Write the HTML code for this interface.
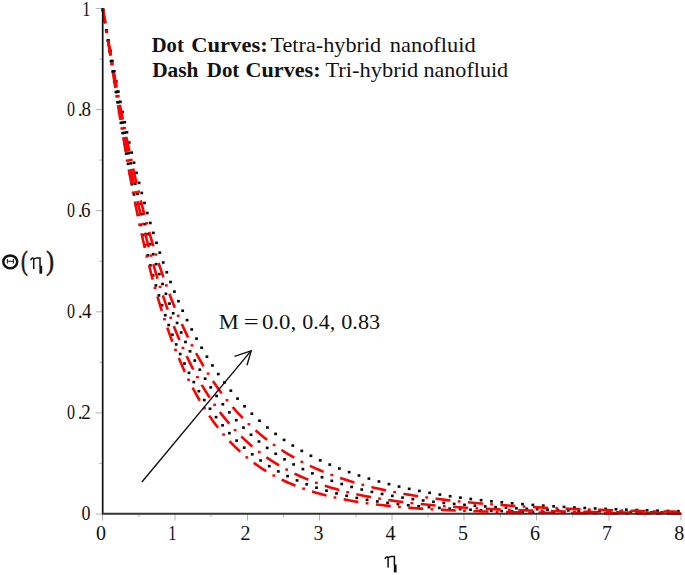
<!DOCTYPE html>
<html><head><meta charset="utf-8"><style>
html,body{margin:0;padding:0;background:#fff;}
body{width:685px;height:575px;overflow:hidden;position:relative;}
svg{position:absolute;left:0;top:0;}
.tl text{font-family:"Liberation Serif",serif;font-size:20px;}
</style></head><body>
<svg width="685" height="575" viewBox="0 0 685 575">
<g stroke="#b4b4b4" stroke-width="1"><line x1="102.5" y1="514" x2="102.5" y2="520.5"/><line x1="139.0" y1="514" x2="139.0" y2="517.2"/><line x1="175.0" y1="514" x2="175.0" y2="520.5"/><line x1="211.0" y1="514" x2="211.0" y2="517.2"/><line x1="247.5" y1="514" x2="247.5" y2="520.5"/><line x1="283.5" y1="514" x2="283.5" y2="517.2"/><line x1="319.5" y1="514" x2="319.5" y2="520.5"/><line x1="356.0" y1="514" x2="356.0" y2="517.2"/><line x1="392.0" y1="514" x2="392.0" y2="520.5"/><line x1="428.0" y1="514" x2="428.0" y2="517.2"/><line x1="464.0" y1="514" x2="464.0" y2="520.5"/><line x1="500.5" y1="514" x2="500.5" y2="517.2"/><line x1="536.5" y1="514" x2="536.5" y2="520.5"/><line x1="572.5" y1="514" x2="572.5" y2="517.2"/><line x1="609.0" y1="514" x2="609.0" y2="520.5"/><line x1="645.0" y1="514" x2="645.0" y2="517.2"/><line x1="681.0" y1="514" x2="681.0" y2="520.5"/><line x1="95.7" y1="514.0" x2="102.7" y2="514.0"/><line x1="99.2" y1="463.4" x2="102.7" y2="463.4"/><line x1="95.7" y1="412.9" x2="102.7" y2="412.9"/><line x1="99.2" y1="362.3" x2="102.7" y2="362.3"/><line x1="95.7" y1="311.8" x2="102.7" y2="311.8"/><line x1="99.2" y1="261.2" x2="102.7" y2="261.2"/><line x1="95.7" y1="210.7" x2="102.7" y2="210.7"/><line x1="99.2" y1="160.1" x2="102.7" y2="160.1"/><line x1="95.7" y1="109.6" x2="102.7" y2="109.6"/><line x1="99.2" y1="59.1" x2="102.7" y2="59.1"/><line x1="95.7" y1="8.5" x2="102.7" y2="8.5"/></g>
<g fill="#0a0a0a"><rect x="101.53" y="8.58" width="2.8" height="2.6"/><rect x="103.22" y="18.84" width="2.8" height="2.6"/><rect x="104.86" y="29.11" width="2.8" height="2.6"/><rect x="106.48" y="39.39" width="2.8" height="2.6"/><rect x="108.09" y="49.66" width="2.8" height="2.6"/><rect x="109.69" y="59.94" width="2.8" height="2.6"/><rect x="111.29" y="70.21" width="2.8" height="2.6"/><rect x="112.91" y="80.49" width="2.8" height="2.6"/><rect x="114.53" y="90.76" width="2.8" height="2.6"/><rect x="116.18" y="101.03" width="2.8" height="2.6"/><rect x="117.85" y="111.29" width="2.8" height="2.6"/><rect x="119.55" y="121.55" width="2.8" height="2.6"/><rect x="121.28" y="131.81" width="2.8" height="2.6"/><rect x="123.05" y="142.06" width="2.8" height="2.6"/><rect x="124.86" y="152.30" width="2.8" height="2.6"/><rect x="126.72" y="162.53" width="2.8" height="2.6"/><rect x="128.62" y="172.75" width="2.8" height="2.6"/><rect x="130.59" y="182.97" width="2.8" height="2.6"/><rect x="132.61" y="193.17" width="2.8" height="2.6"/><rect x="134.70" y="203.36" width="2.8" height="2.6"/><rect x="136.86" y="213.53" width="2.8" height="2.6"/><rect x="139.09" y="223.69" width="2.8" height="2.6"/><rect x="141.41" y="233.82" width="2.8" height="2.6"/><rect x="143.82" y="243.94" width="2.8" height="2.6"/><rect x="146.33" y="254.04" width="2.8" height="2.6"/><rect x="148.94" y="264.10" width="2.8" height="2.6"/><rect x="151.66" y="274.14" width="2.8" height="2.6"/><rect x="154.50" y="284.14" width="2.8" height="2.6"/><rect x="157.48" y="294.11" width="2.8" height="2.6"/><rect x="160.60" y="304.03" width="2.8" height="2.6"/><rect x="163.88" y="313.90" width="2.8" height="2.6"/><rect x="167.32" y="323.71" width="2.8" height="2.6"/><rect x="170.95" y="333.46" width="2.8" height="2.6"/><rect x="174.77" y="343.13" width="2.8" height="2.6"/><rect x="178.80" y="352.72" width="2.8" height="2.6"/><rect x="183.07" y="362.20" width="2.8" height="2.6"/><rect x="187.59" y="371.57" width="2.8" height="2.6"/><rect x="192.38" y="380.80" width="2.8" height="2.6"/><rect x="197.46" y="389.87" width="2.8" height="2.6"/><rect x="202.86" y="398.76" width="2.8" height="2.6"/><rect x="208.59" y="407.44" width="2.8" height="2.6"/><rect x="214.68" y="415.87" width="2.8" height="2.6"/><rect x="221.14" y="424.02" width="2.8" height="2.6"/><rect x="227.98" y="431.85" width="2.8" height="2.6"/><rect x="235.22" y="439.31" width="2.8" height="2.6"/><rect x="242.84" y="446.38" width="2.8" height="2.6"/><rect x="250.85" y="453.02" width="2.8" height="2.6"/><rect x="259.21" y="459.20" width="2.8" height="2.6"/><rect x="267.91" y="464.90" width="2.8" height="2.6"/><rect x="276.90" y="470.12" width="2.8" height="2.6"/><rect x="286.16" y="474.86" width="2.8" height="2.6"/><rect x="295.64" y="479.13" width="2.8" height="2.6"/><rect x="305.31" y="482.96" width="2.8" height="2.6"/><rect x="315.13" y="486.38" width="2.8" height="2.6"/><rect x="325.08" y="489.42" width="2.8" height="2.6"/><rect x="335.12" y="492.12" width="2.8" height="2.6"/><rect x="345.24" y="494.50" width="2.8" height="2.6"/><rect x="355.43" y="496.61" width="2.8" height="2.6"/><rect x="365.66" y="498.47" width="2.8" height="2.6"/><rect x="375.93" y="500.11" width="2.8" height="2.6"/><rect x="386.23" y="501.55" width="2.8" height="2.6"/><rect x="396.55" y="502.83" width="2.8" height="2.6"/><rect x="406.89" y="503.96" width="2.8" height="2.6"/><rect x="417.24" y="504.96" width="2.8" height="2.6"/><rect x="427.60" y="505.84" width="2.8" height="2.6"/><rect x="437.97" y="506.61" width="2.8" height="2.6"/><rect x="448.35" y="507.30" width="2.8" height="2.6"/><rect x="458.73" y="507.91" width="2.8" height="2.6"/><rect x="469.12" y="508.45" width="2.8" height="2.6"/><rect x="479.51" y="508.93" width="2.8" height="2.6"/><rect x="489.90" y="509.36" width="2.8" height="2.6"/><rect x="500.29" y="509.73" width="2.8" height="2.6"/><rect x="510.69" y="510.07" width="2.8" height="2.6"/><rect x="521.08" y="510.36" width="2.8" height="2.6"/><rect x="531.48" y="510.63" width="2.8" height="2.6"/><rect x="541.88" y="510.86" width="2.8" height="2.6"/><rect x="552.27" y="511.07" width="2.8" height="2.6"/><rect x="562.67" y="511.25" width="2.8" height="2.6"/><rect x="573.07" y="511.42" width="2.8" height="2.6"/><rect x="583.47" y="511.56" width="2.8" height="2.6"/><rect x="593.87" y="511.69" width="2.8" height="2.6"/><rect x="604.27" y="511.81" width="2.8" height="2.6"/><rect x="614.67" y="511.91" width="2.8" height="2.6"/><rect x="625.07" y="512.00" width="2.8" height="2.6"/><rect x="635.47" y="512.08" width="2.8" height="2.6"/><rect x="645.87" y="512.16" width="2.8" height="2.6"/><rect x="656.27" y="512.22" width="2.8" height="2.6"/><rect x="666.67" y="512.28" width="2.8" height="2.6"/><rect x="677.07" y="512.33" width="2.8" height="2.6"/><rect x="101.54" y="8.58" width="2.8" height="2.6"/><rect x="103.31" y="18.83" width="2.8" height="2.6"/><rect x="105.06" y="29.08" width="2.8" height="2.6"/><rect x="106.80" y="39.33" width="2.8" height="2.6"/><rect x="108.55" y="49.58" width="2.8" height="2.6"/><rect x="110.30" y="59.84" width="2.8" height="2.6"/><rect x="112.06" y="70.09" width="2.8" height="2.6"/><rect x="113.85" y="80.33" width="2.8" height="2.6"/><rect x="115.65" y="90.57" width="2.8" height="2.6"/><rect x="117.49" y="100.81" width="2.8" height="2.6"/><rect x="119.36" y="111.04" width="2.8" height="2.6"/><rect x="121.27" y="121.26" width="2.8" height="2.6"/><rect x="123.23" y="131.48" width="2.8" height="2.6"/><rect x="125.23" y="141.68" width="2.8" height="2.6"/><rect x="127.28" y="151.88" width="2.8" height="2.6"/><rect x="129.39" y="162.06" width="2.8" height="2.6"/><rect x="131.56" y="172.23" width="2.8" height="2.6"/><rect x="133.80" y="182.39" width="2.8" height="2.6"/><rect x="136.10" y="192.53" width="2.8" height="2.6"/><rect x="138.49" y="202.65" width="2.8" height="2.6"/><rect x="140.96" y="212.76" width="2.8" height="2.6"/><rect x="143.51" y="222.84" width="2.8" height="2.6"/><rect x="146.17" y="232.89" width="2.8" height="2.6"/><rect x="148.92" y="242.92" width="2.8" height="2.6"/><rect x="151.79" y="252.92" width="2.8" height="2.6"/><rect x="154.77" y="262.88" width="2.8" height="2.6"/><rect x="157.88" y="272.81" width="2.8" height="2.6"/><rect x="161.13" y="282.69" width="2.8" height="2.6"/><rect x="164.52" y="292.52" width="2.8" height="2.6"/><rect x="168.07" y="302.29" width="2.8" height="2.6"/><rect x="171.79" y="312.00" width="2.8" height="2.6"/><rect x="175.69" y="321.64" width="2.8" height="2.6"/><rect x="179.79" y="331.20" width="2.8" height="2.6"/><rect x="184.09" y="340.67" width="2.8" height="2.6"/><rect x="188.62" y="350.03" width="2.8" height="2.6"/><rect x="193.39" y="359.27" width="2.8" height="2.6"/><rect x="198.42" y="368.38" width="2.8" height="2.6"/><rect x="203.72" y="377.33" width="2.8" height="2.6"/><rect x="209.31" y="386.10" width="2.8" height="2.6"/><rect x="215.20" y="394.66" width="2.8" height="2.6"/><rect x="221.42" y="403.00" width="2.8" height="2.6"/><rect x="227.96" y="411.08" width="2.8" height="2.6"/><rect x="234.85" y="418.87" width="2.8" height="2.6"/><rect x="242.08" y="426.34" width="2.8" height="2.6"/><rect x="249.66" y="433.47" width="2.8" height="2.6"/><rect x="257.57" y="440.22" width="2.8" height="2.6"/><rect x="265.80" y="446.57" width="2.8" height="2.6"/><rect x="274.34" y="452.51" width="2.8" height="2.6"/><rect x="283.15" y="458.03" width="2.8" height="2.6"/><rect x="292.22" y="463.13" width="2.8" height="2.6"/><rect x="301.50" y="467.81" width="2.8" height="2.6"/><rect x="310.98" y="472.09" width="2.8" height="2.6"/><rect x="320.62" y="475.99" width="2.8" height="2.6"/><rect x="330.40" y="479.52" width="2.8" height="2.6"/><rect x="340.29" y="482.72" width="2.8" height="2.6"/><rect x="350.28" y="485.61" width="2.8" height="2.6"/><rect x="360.35" y="488.22" width="2.8" height="2.6"/><rect x="370.48" y="490.57" width="2.8" height="2.6"/><rect x="380.67" y="492.68" width="2.8" height="2.6"/><rect x="390.89" y="494.58" width="2.8" height="2.6"/><rect x="401.15" y="496.29" width="2.8" height="2.6"/><rect x="411.43" y="497.83" width="2.8" height="2.6"/><rect x="421.74" y="499.22" width="2.8" height="2.6"/><rect x="432.07" y="500.48" width="2.8" height="2.6"/><rect x="442.40" y="501.60" width="2.8" height="2.6"/><rect x="452.75" y="502.62" width="2.8" height="2.6"/><rect x="463.11" y="503.54" width="2.8" height="2.6"/><rect x="473.48" y="504.38" width="2.8" height="2.6"/><rect x="483.85" y="505.13" width="2.8" height="2.6"/><rect x="494.23" y="505.81" width="2.8" height="2.6"/><rect x="504.61" y="506.43" width="2.8" height="2.6"/><rect x="515.00" y="506.99" width="2.8" height="2.6"/><rect x="525.38" y="507.49" width="2.8" height="2.6"/><rect x="535.77" y="507.96" width="2.8" height="2.6"/><rect x="546.17" y="508.37" width="2.8" height="2.6"/><rect x="556.56" y="508.76" width="2.8" height="2.6"/><rect x="566.95" y="509.10" width="2.8" height="2.6"/><rect x="577.35" y="509.42" width="2.8" height="2.6"/><rect x="587.74" y="509.71" width="2.8" height="2.6"/><rect x="598.14" y="509.97" width="2.8" height="2.6"/><rect x="608.54" y="510.21" width="2.8" height="2.6"/><rect x="618.94" y="510.43" width="2.8" height="2.6"/><rect x="629.33" y="510.63" width="2.8" height="2.6"/><rect x="639.73" y="510.81" width="2.8" height="2.6"/><rect x="650.13" y="510.98" width="2.8" height="2.6"/><rect x="660.53" y="511.13" width="2.8" height="2.6"/><rect x="670.93" y="511.27" width="2.8" height="2.6"/><rect x="101.55" y="8.58" width="2.8" height="2.6"/><rect x="103.39" y="18.81" width="2.8" height="2.6"/><rect x="105.25" y="29.05" width="2.8" height="2.6"/><rect x="107.12" y="39.28" width="2.8" height="2.6"/><rect x="109.02" y="49.50" width="2.8" height="2.6"/><rect x="110.94" y="59.72" width="2.8" height="2.6"/><rect x="112.90" y="69.94" width="2.8" height="2.6"/><rect x="114.89" y="80.14" width="2.8" height="2.6"/><rect x="116.92" y="90.34" width="2.8" height="2.6"/><rect x="118.99" y="100.54" width="2.8" height="2.6"/><rect x="121.12" y="110.72" width="2.8" height="2.6"/><rect x="123.29" y="120.89" width="2.8" height="2.6"/><rect x="125.52" y="131.04" width="2.8" height="2.6"/><rect x="127.81" y="141.19" width="2.8" height="2.6"/><rect x="130.17" y="151.32" width="2.8" height="2.6"/><rect x="132.59" y="161.43" width="2.8" height="2.6"/><rect x="135.09" y="171.53" width="2.8" height="2.6"/><rect x="137.67" y="181.60" width="2.8" height="2.6"/><rect x="140.33" y="191.66" width="2.8" height="2.6"/><rect x="143.08" y="201.69" width="2.8" height="2.6"/><rect x="145.93" y="211.69" width="2.8" height="2.6"/><rect x="148.88" y="221.66" width="2.8" height="2.6"/><rect x="151.93" y="231.60" width="2.8" height="2.6"/><rect x="155.11" y="241.51" width="2.8" height="2.6"/><rect x="158.40" y="251.37" width="2.8" height="2.6"/><rect x="161.83" y="261.19" width="2.8" height="2.6"/><rect x="165.40" y="270.96" width="2.8" height="2.6"/><rect x="169.12" y="280.67" width="2.8" height="2.6"/><rect x="172.99" y="290.32" width="2.8" height="2.6"/><rect x="177.03" y="299.90" width="2.8" height="2.6"/><rect x="181.26" y="309.41" width="2.8" height="2.6"/><rect x="185.67" y="318.82" width="2.8" height="2.6"/><rect x="190.29" y="328.14" width="2.8" height="2.6"/><rect x="195.13" y="337.35" width="2.8" height="2.6"/><rect x="200.19" y="346.43" width="2.8" height="2.6"/><rect x="205.50" y="355.37" width="2.8" height="2.6"/><rect x="211.07" y="364.16" width="2.8" height="2.6"/><rect x="216.90" y="372.77" width="2.8" height="2.6"/><rect x="223.02" y="381.18" width="2.8" height="2.6"/><rect x="229.43" y="389.37" width="2.8" height="2.6"/><rect x="236.13" y="397.32" width="2.8" height="2.6"/><rect x="243.14" y="405.00" width="2.8" height="2.6"/><rect x="250.46" y="412.39" width="2.8" height="2.6"/><rect x="258.08" y="419.46" width="2.8" height="2.6"/><rect x="266.00" y="426.20" width="2.8" height="2.6"/><rect x="274.20" y="432.59" width="2.8" height="2.6"/><rect x="282.68" y="438.62" width="2.8" height="2.6"/><rect x="291.40" y="444.28" width="2.8" height="2.6"/><rect x="300.36" y="449.57" width="2.8" height="2.6"/><rect x="309.52" y="454.49" width="2.8" height="2.6"/><rect x="318.86" y="459.07" width="2.8" height="2.6"/><rect x="328.35" y="463.30" width="2.8" height="2.6"/><rect x="337.98" y="467.23" width="2.8" height="2.6"/><rect x="347.73" y="470.86" width="2.8" height="2.6"/><rect x="357.57" y="474.21" width="2.8" height="2.6"/><rect x="367.50" y="477.31" width="2.8" height="2.6"/><rect x="377.50" y="480.18" width="2.8" height="2.6"/><rect x="387.55" y="482.83" width="2.8" height="2.6"/><rect x="397.66" y="485.28" width="2.8" height="2.6"/><rect x="407.81" y="487.53" width="2.8" height="2.6"/><rect x="418.00" y="489.61" width="2.8" height="2.6"/><rect x="428.23" y="491.52" width="2.8" height="2.6"/><rect x="438.48" y="493.27" width="2.8" height="2.6"/><rect x="448.75" y="494.88" width="2.8" height="2.6"/><rect x="459.05" y="496.34" width="2.8" height="2.6"/><rect x="469.36" y="497.68" width="2.8" height="2.6"/><rect x="479.69" y="498.91" width="2.8" height="2.6"/><rect x="490.03" y="500.03" width="2.8" height="2.6"/><rect x="500.38" y="501.05" width="2.8" height="2.6"/><rect x="510.74" y="501.98" width="2.8" height="2.6"/><rect x="521.10" y="502.83" width="2.8" height="2.6"/><rect x="531.47" y="503.62" width="2.8" height="2.6"/><rect x="541.85" y="504.33" width="2.8" height="2.6"/><rect x="552.23" y="504.99" width="2.8" height="2.6"/><rect x="562.61" y="505.60" width="2.8" height="2.6"/><rect x="573.00" y="506.16" width="2.8" height="2.6"/><rect x="583.38" y="506.67" width="2.8" height="2.6"/><rect x="593.77" y="507.15" width="2.8" height="2.6"/><rect x="604.16" y="507.59" width="2.8" height="2.6"/><rect x="614.55" y="507.99" width="2.8" height="2.6"/><rect x="624.95" y="508.36" width="2.8" height="2.6"/><rect x="635.34" y="508.71" width="2.8" height="2.6"/><rect x="645.74" y="509.03" width="2.8" height="2.6"/><rect x="656.13" y="509.32" width="2.8" height="2.6"/><rect x="666.53" y="509.60" width="2.8" height="2.6"/><rect x="676.93" y="509.85" width="2.8" height="2.6"/></g><g fill="#f00"><rect x="105.19" y="30.68" width="2.80" height="2.40"/><rect x="110.23" y="62.89" width="2.80" height="2.40"/><rect x="115.22" y="95.10" width="2.80" height="2.40"/><rect x="120.38" y="127.29" width="2.80" height="2.40"/><rect x="125.84" y="159.43" width="2.80" height="2.40"/><rect x="131.73" y="191.49" width="2.80" height="2.40"/><rect x="138.21" y="223.44" width="2.80" height="2.40"/><rect x="145.43" y="255.23" width="2.80" height="2.40"/><rect x="153.62" y="286.78" width="2.80" height="2.40"/><rect x="163.05" y="317.99" width="2.80" height="2.40"/><rect x="174.07" y="348.67" width="2.80" height="2.40"/><rect x="187.16" y="378.51" width="2.80" height="2.40"/><rect x="202.97" y="407.01" width="2.80" height="2.40"/><rect x="222.19" y="433.30" width="2.80" height="2.40"/><rect x="245.38" y="456.15" width="2.80" height="2.40"/><rect x="272.39" y="474.33" width="2.80" height="2.40"/><rect x="302.18" y="487.47" width="2.80" height="2.40"/><rect x="333.54" y="496.31" width="2.80" height="2.40"/><rect x="365.62" y="502.04" width="2.80" height="2.40"/><rect x="398.01" y="505.73" width="2.80" height="2.40"/><rect x="430.52" y="508.10" width="2.80" height="2.40"/><rect x="463.09" y="509.64" width="2.80" height="2.40"/><rect x="495.67" y="510.64" width="2.80" height="2.40"/><rect x="528.26" y="511.31" width="2.80" height="2.40"/><rect x="560.86" y="511.75" width="2.80" height="2.40"/><rect x="593.46" y="512.06" width="2.80" height="2.40"/><rect x="626.06" y="512.26" width="2.80" height="2.40"/><rect x="658.66" y="512.41" width="2.80" height="2.40"/><path d="M102.70,8.50 L102.77,8.91 L103.21,11.42 L103.64,13.95 L104.07,16.52 L104.51,19.11 L104.94,21.73 L105.20,23.29 M107.98,40.67 L107.99,40.73 L108.34,42.95 L108.69,45.18 L109.04,47.42 L109.39,49.66 L109.74,51.91 L110.09,54.16 L110.30,55.49 M112.98,72.88 L113.02,73.14 L113.37,75.40 L113.72,77.66 L114.07,79.92 L114.42,82.17 L114.77,84.43 L115.12,86.67 L115.28,87.71 M118.01,105.09 L118.06,105.39 L118.48,108.03 L118.90,110.66 L119.31,113.29 L119.73,115.90 L120.15,118.50 L120.38,119.90 M123.23,137.27 L123.30,137.65 L123.72,140.16 L124.14,142.64 L124.56,145.12 L124.98,147.58 L125.39,150.03 L125.74,152.06 M128.80,169.39 L128.82,169.52 L129.24,171.84 L129.66,174.14 L130.08,176.44 L130.50,178.71 L130.92,180.98 L131.34,183.23 L131.51,184.15 M134.83,201.43 L134.90,201.76 L135.39,204.22 L135.88,206.66 L136.37,209.09 L136.86,211.49 L137.35,213.87 L137.81,216.13 M141.50,233.34 L141.54,233.53 L142.10,236.05 L142.66,238.54 L143.22,241.01 L143.78,243.46 L144.34,245.88 L144.82,247.97 M148.96,265.07 L149.02,265.29 L149.65,267.78 L150.28,270.24 L150.90,272.67 L151.53,275.08 L152.16,277.47 L152.73,279.59 M157.46,296.54 L157.47,296.59 L158.17,298.98 L158.87,301.34 L159.57,303.67 L160.27,305.98 L160.97,308.25 L161.67,310.50 L161.79,310.90 M167.28,327.63 L167.33,327.77 L168.17,330.19 L169.01,332.57 L169.85,334.93 L170.68,337.24 L171.52,339.53 L172.35,341.74 M178.81,358.11 L178.86,358.23 L179.84,360.55 L180.82,362.84 L181.80,365.09 L182.77,367.30 L183.75,369.48 L184.73,371.63 L184.83,371.85 M192.58,387.65 L192.63,387.74 L193.82,389.99 L195.01,392.20 L196.19,394.37 L197.38,396.49 L198.57,398.58 L199.76,400.63 L199.84,400.77 M209.25,415.65 L209.26,415.67 L210.10,416.90 L210.94,418.10 L212.56,420.39 L214.44,422.97 L216.32,425.47 L218.09,427.76 M229.52,441.14 L229.64,441.26 L231.36,443.08 L233.09,444.85 L234.81,446.57 L236.54,448.24 L238.26,449.88 L239.98,451.47 L240.20,451.66 M253.81,462.81 L253.93,462.90 L255.97,464.38 L258.00,465.81 L260.04,467.20 L262.08,468.54 L264.12,469.85 L266.15,471.12 L266.25,471.18 M281.70,479.60 L281.82,479.66 L284.02,480.71 L286.21,481.72 L288.40,482.70 L290.60,483.65 L292.79,484.56 L294.99,485.45 L295.43,485.63 M312.03,491.46 L312.07,491.47 L314.42,492.19 L316.77,492.88 L319.12,493.55 L321.47,494.19 L323.82,494.82 L326.17,495.42 L326.48,495.50 M343.65,499.33 L343.72,499.34 L346.23,499.83 L348.73,500.30 L351.24,500.75 L353.75,501.18 L356.26,501.60 L358.42,501.95 M375.85,504.42 L376.00,504.44 L378.51,504.74 L381.02,505.04 L383.52,505.33 L386.03,505.60 L388.54,505.87 L390.75,506.10 M408.28,507.68 L408.28,507.68 L410.79,507.88 L413.30,508.07 L415.80,508.25 L418.31,508.43 L420.82,508.60 L423.24,508.76 M440.81,509.79 L440.88,509.79 L443.38,509.92 L445.89,510.04 L448.40,510.16 L450.90,510.27 L453.41,510.38 L455.79,510.49 M473.38,511.15 L473.47,511.16 L475.98,511.24 L478.48,511.32 L480.99,511.40 L483.50,511.47 L486.01,511.55 L488.37,511.61 M505.97,512.05 L506.06,512.05 L508.57,512.11 L511.08,512.16 L513.59,512.21 L516.09,512.26 L518.60,512.31 L520.97,512.36 M538.56,512.65 L538.66,512.65 L541.16,512.69 L543.67,512.72 L546.18,512.76 L548.69,512.79 L551.19,512.82 L553.56,512.85 M571.16,513.05 L571.25,513.05 L573.76,513.07 L576.27,513.10 L578.77,513.12 L581.28,513.14 L583.79,513.17 L586.16,513.19 M603.76,513.32 L603.85,513.32 L606.35,513.34 L608.86,513.35 L611.37,513.37 L613.87,513.39 L616.38,513.40 L618.76,513.41 M636.36,513.51 L636.44,513.51 L638.95,513.52 L641.45,513.53 L643.96,513.54 L646.47,513.55 L648.98,513.56 L651.36,513.57 M668.96,513.64 L669.03,513.64 L671.07,513.64 L673.11,513.65 L675.15,513.66 L677.18,513.66 L679.22,513.67 L681.10,513.67" fill="none" stroke="#f00" stroke-width="2.6"/><rect x="105.28" y="30.66" width="2.80" height="2.40"/><rect x="110.61" y="62.82" width="2.80" height="2.40"/><rect x="116.01" y="94.97" width="2.80" height="2.40"/><rect x="121.65" y="127.08" width="2.80" height="2.40"/><rect x="127.68" y="159.12" width="2.80" height="2.40"/><rect x="134.23" y="191.05" width="2.80" height="2.40"/><rect x="141.46" y="222.84" width="2.80" height="2.40"/><rect x="149.55" y="254.42" width="2.80" height="2.40"/><rect x="158.72" y="285.70" width="2.80" height="2.40"/><rect x="169.26" y="316.55" width="2.80" height="2.40"/><rect x="181.52" y="346.75" width="2.80" height="2.40"/><rect x="195.98" y="375.96" width="2.80" height="2.40"/><rect x="213.19" y="403.62" width="2.80" height="2.40"/><rect x="233.71" y="428.92" width="2.80" height="2.40"/><rect x="257.83" y="450.80" width="2.80" height="2.40"/><rect x="285.22" y="468.41" width="2.80" height="2.40"/><rect x="315.01" y="481.59" width="2.80" height="2.40"/><rect x="346.21" y="490.96" width="2.80" height="2.40"/><rect x="378.15" y="497.45" width="2.80" height="2.40"/><rect x="410.44" y="501.91" width="2.80" height="2.40"/><rect x="442.90" y="504.99" width="2.80" height="2.40"/><rect x="475.43" y="507.13" width="2.80" height="2.40"/><rect x="507.99" y="508.63" width="2.80" height="2.40"/><rect x="540.57" y="509.70" width="2.80" height="2.40"/><rect x="573.16" y="510.46" width="2.80" height="2.40"/><rect x="605.76" y="511.01" width="2.80" height="2.40"/><rect x="638.36" y="511.42" width="2.80" height="2.40"/><rect x="670.96" y="511.72" width="2.80" height="2.40"/><path d="M102.70,8.50 L102.77,8.91 L103.21,11.40 L103.64,13.90 L104.07,16.42 L104.51,18.96 L104.94,21.51 L105.24,23.28 M108.14,40.64 L108.20,40.99 L108.62,43.52 L109.04,46.05 L109.46,48.59 L109.88,51.13 L110.30,53.66 L110.59,55.44 M113.47,72.80 L113.51,73.06 L113.93,75.57 L114.35,78.08 L114.77,80.58 L115.19,83.08 L115.61,85.57 L115.95,87.60 M118.92,104.95 L118.97,105.20 L119.38,107.61 L119.80,110.01 L120.22,112.41 L120.64,114.79 L121.06,117.16 L121.48,119.53 L121.52,119.72 M124.65,137.04 L124.70,137.26 L125.19,139.90 L125.67,142.52 L126.16,145.13 L126.65,147.72 L127.14,150.29 L127.43,151.78 M130.81,169.05 L130.85,169.23 L131.34,171.66 L131.82,174.07 L132.31,176.47 L132.80,178.84 L133.29,181.21 L133.78,183.55 L133.82,183.74 M137.53,200.95 L137.56,201.07 L138.11,203.58 L138.67,206.07 L139.23,208.54 L139.79,210.98 L140.35,213.41 L140.85,215.58 M144.97,232.69 L145.03,232.93 L145.66,235.44 L146.29,237.93 L146.92,240.40 L147.55,242.84 L148.18,245.26 L148.69,247.22 M153.33,264.20 L153.35,264.26 L154.05,266.71 L154.75,269.13 L155.45,271.53 L156.15,273.90 L156.85,276.25 L157.54,278.57 L157.55,278.59 M162.85,295.37 L162.86,295.40 L163.69,297.94 L164.53,300.44 L165.37,302.91 L166.21,305.34 L167.05,307.75 L167.69,309.57 M173.81,326.07 L173.83,326.11 L174.74,328.43 L175.65,330.71 L176.55,332.97 L177.46,335.20 L178.37,337.39 L179.28,339.56 L179.45,339.97 M186.63,356.04 L186.69,356.17 L187.81,358.52 L188.92,360.83 L190.04,363.11 L191.16,365.35 L192.28,367.55 L193.28,369.48 M201.78,384.89 L201.78,384.90 L203.11,387.13 L204.44,389.33 L205.77,391.49 L207.10,393.60 L208.42,395.68 L209.70,397.63 M219.85,412.00 L219.93,412.11 L221.49,414.15 L223.06,416.14 L224.63,418.09 L226.19,420.00 L227.76,421.87 L229.29,423.66 M241.34,436.48 L241.39,436.53 L243.27,438.34 L245.15,440.11 L247.03,441.83 L248.92,443.51 L250.80,445.15 L252.45,446.55 M266.41,457.26 L266.47,457.30 L268.50,458.69 L270.54,460.06 L272.58,461.38 L274.61,462.67 L276.65,463.93 L278.69,465.15 L279.03,465.35 M294.56,473.63 L294.67,473.69 L296.87,474.73 L299.06,475.74 L301.25,476.72 L303.45,477.67 L305.64,478.60 L307.84,479.50 L308.28,479.68 M324.82,485.69 L324.92,485.72 L327.27,486.48 L329.62,487.21 L331.97,487.92 L334.32,488.61 L336.67,489.28 L339.02,489.93 L339.19,489.98 M356.28,494.18 L356.41,494.21 L358.76,494.72 L361.11,495.21 L363.46,495.69 L365.82,496.16 L368.17,496.62 L370.52,497.06 L370.98,497.15 M388.35,500.04 L388.38,500.04 L390.89,500.41 L393.39,500.77 L395.90,501.12 L398.41,501.46 L400.92,501.79 L403.21,502.08 M420.69,504.07 L420.82,504.08 L423.32,504.33 L425.83,504.58 L428.34,504.82 L430.85,505.05 L433.35,505.28 L435.63,505.47 M453.17,506.85 L453.25,506.86 L455.76,507.03 L458.27,507.20 L460.78,507.37 L463.28,507.53 L465.79,507.69 L468.14,507.83 M485.71,508.79 L485.85,508.80 L488.36,508.92 L490.86,509.04 L493.37,509.16 L495.88,509.27 L498.39,509.38 L500.70,509.48 M518.28,510.16 L518.29,510.16 L520.79,510.24 L523.30,510.33 L525.81,510.41 L528.32,510.49 L530.82,510.57 L533.28,510.65 M550.87,511.13 L550.88,511.13 L553.39,511.19 L555.89,511.25 L558.40,511.31 L560.91,511.37 L563.42,511.43 L565.87,511.48 M583.46,511.83 L583.47,511.83 L585.98,511.87 L588.49,511.92 L591.00,511.96 L593.50,512.00 L596.01,512.04 L598.46,512.08 M616.06,512.34 L616.07,512.34 L618.58,512.37 L621.08,512.40 L623.59,512.43 L626.10,512.46 L628.60,512.49 L631.06,512.52 M648.66,512.71 L648.66,512.71 L651.17,512.74 L653.68,512.76 L656.18,512.78 L658.69,512.80 L661.20,512.83 L663.66,512.85" fill="none" stroke="#f00" stroke-width="2.6"/><rect x="105.35" y="30.65" width="2.80" height="2.40"/><rect x="110.99" y="62.76" width="2.80" height="2.40"/><rect x="116.85" y="94.83" width="2.80" height="2.40"/><rect x="123.08" y="126.83" width="2.80" height="2.40"/><rect x="129.80" y="158.73" width="2.80" height="2.40"/><rect x="137.17" y="190.48" width="2.80" height="2.40"/><rect x="145.34" y="222.04" width="2.80" height="2.40"/><rect x="154.50" y="253.33" width="2.80" height="2.40"/><rect x="164.89" y="284.22" width="2.80" height="2.40"/><rect x="176.80" y="314.57" width="2.80" height="2.40"/><rect x="190.59" y="344.10" width="2.80" height="2.40"/><rect x="206.69" y="372.43" width="2.80" height="2.40"/><rect x="225.56" y="398.99" width="2.80" height="2.40"/><rect x="247.54" y="423.03" width="2.80" height="2.40"/><rect x="272.67" y="443.76" width="2.80" height="2.40"/><rect x="300.52" y="460.65" width="2.80" height="2.40"/><rect x="330.34" y="473.77" width="2.80" height="2.40"/><rect x="361.41" y="483.61" width="2.80" height="2.40"/><rect x="393.18" y="490.88" width="2.80" height="2.40"/><rect x="425.33" y="496.24" width="2.80" height="2.40"/><rect x="457.69" y="500.20" width="2.80" height="2.40"/><rect x="490.16" y="503.15" width="2.80" height="2.40"/><rect x="522.68" y="505.36" width="2.80" height="2.40"/><rect x="555.24" y="507.04" width="2.80" height="2.40"/><rect x="587.81" y="508.32" width="2.80" height="2.40"/><rect x="620.40" y="509.31" width="2.80" height="2.40"/><rect x="652.99" y="510.08" width="2.80" height="2.40"/><path d="M102.70,8.50 L102.77,8.91 L103.21,11.40 L103.64,13.90 L104.07,16.40 L104.51,18.90 L104.94,21.40 L105.27,23.28 M108.28,40.62 L108.34,40.98 L108.76,43.38 L109.18,45.78 L109.60,48.17 L110.02,50.56 L110.44,52.95 L110.86,55.32 L110.87,55.39 M113.96,72.72 L114.00,72.95 L114.42,75.27 L114.84,77.58 L115.26,79.89 L115.68,82.18 L116.10,84.46 L116.52,86.74 L116.66,87.48 M119.91,104.77 L119.94,104.96 L120.43,107.51 L120.92,110.05 L121.41,112.57 L121.90,115.07 L122.39,117.57 L122.77,119.50 M126.26,136.75 L126.30,136.97 L126.79,139.33 L127.28,141.68 L127.77,144.01 L128.26,146.32 L128.75,148.62 L129.24,150.91 L129.35,151.43 M133.14,168.61 L133.15,168.66 L133.71,171.11 L134.27,173.55 L134.83,175.97 L135.39,178.38 L135.95,180.76 L136.51,183.13 L136.53,183.22 M140.71,200.32 L140.77,200.56 L141.40,203.04 L142.03,205.50 L142.66,207.94 L143.29,210.36 L143.92,212.76 L144.47,214.84 M149.13,231.81 L149.16,231.91 L149.86,234.36 L150.56,236.78 L151.25,239.18 L151.95,241.56 L152.65,243.91 L153.34,246.21 M158.60,263.01 L158.66,263.20 L159.43,265.55 L160.20,267.87 L160.97,270.17 L161.74,272.45 L162.51,274.70 L163.28,276.93 L163.38,277.22 M169.37,293.77 L169.43,293.91 L170.33,296.30 L171.24,298.66 L172.15,300.99 L173.06,303.29 L173.97,305.56 L174.85,307.74 M181.76,323.92 L181.80,324.01 L182.84,326.34 L183.89,328.63 L184.94,330.89 L185.99,333.12 L187.04,335.32 L188.09,337.49 L188.10,337.52 M196.13,353.17 L196.19,353.28 L197.45,355.59 L198.71,357.85 L199.97,360.08 L201.23,362.27 L202.48,364.43 L203.54,366.22 M212.95,381.09 L213.03,381.21 L214.44,383.29 L215.85,385.33 L217.26,387.33 L218.67,389.30 L220.08,391.24 L221.49,393.14 L221.63,393.32 M232.64,407.04 L232.77,407.20 L234.50,409.18 L236.22,411.12 L237.95,413.02 L239.67,414.87 L241.39,416.69 L242.76,418.11 M255.50,430.25 L255.65,430.38 L257.53,432.02 L259.41,433.62 L261.29,435.19 L263.18,436.72 L265.06,438.22 L266.94,439.68 L267.07,439.79 M281.43,449.96 L281.51,450.01 L283.70,451.42 L285.90,452.79 L288.09,454.13 L290.28,455.44 L292.48,456.71 L294.26,457.73 M309.90,465.79 L310.03,465.85 L312.22,466.88 L314.42,467.87 L316.61,468.85 L318.80,469.80 L321.00,470.73 L323.19,471.63 L323.64,471.81 M340.13,477.95 L340.27,478.00 L342.62,478.79 L344.97,479.56 L347.32,480.31 L349.67,481.04 L352.03,481.75 L354.38,482.45 L354.43,482.46 M371.43,487.02 L371.46,487.03 L373.96,487.64 L376.47,488.23 L378.98,488.80 L381.49,489.37 L383.99,489.91 L386.05,490.36 M403.33,493.71 L403.42,493.73 L405.93,494.17 L408.44,494.60 L410.95,495.02 L413.45,495.43 L415.96,495.83 L418.13,496.17 M435.55,498.64 L435.70,498.66 L438.21,498.99 L440.72,499.30 L443.23,499.61 L445.73,499.91 L448.24,500.20 L450.44,500.46 M467.95,502.29 L467.98,502.30 L470.49,502.54 L473.00,502.77 L475.51,503.00 L478.01,503.22 L480.52,503.44 L482.88,503.64 M500.43,505.02 L500.58,505.03 L503.09,505.21 L505.59,505.38 L508.10,505.55 L510.61,505.72 L513.12,505.89 L515.40,506.03 M532.97,507.07 L533.02,507.07 L535.52,507.21 L538.03,507.34 L540.54,507.47 L543.05,507.60 L545.55,507.72 L547.95,507.84 M565.53,508.63 L565.61,508.63 L568.12,508.73 L570.62,508.83 L573.13,508.93 L575.64,509.03 L578.15,509.13 L580.52,509.21 M598.11,509.82 L598.20,509.82 L600.71,509.90 L603.22,509.98 L605.73,510.06 L608.23,510.13 L610.74,510.20 L613.10,510.27 M630.69,510.74 L630.80,510.74 L633.31,510.80 L635.81,510.86 L638.32,510.92 L640.83,510.98 L643.33,511.04 L645.69,511.09 M663.29,511.45 L663.39,511.46 L665.90,511.50 L668.41,511.55 L670.91,511.60 L673.42,511.64 L675.93,511.69 L678.28,511.73" fill="none" stroke="#f00" stroke-width="2.6"/></g>
<line x1="102.7" y1="8.3" x2="102.7" y2="514" stroke="#111" stroke-width="1.7"/>
<line x1="102" y1="513.8" x2="681.5" y2="513.8" stroke="#333" stroke-width="1.9"/>
<g class="tl" fill="#111"></g>
<g fill="#111"><text transform="translate(151.70,52.0) scale(0.9818,1)" style="font-family:'Liberation Serif',serif;font-weight:bold;font-size:21px">Dot</text><text transform="translate(191.33,52.0) scale(1.0735,1)" style="font-family:'Liberation Serif',serif;font-weight:bold;font-size:21px">Curves:</text><text transform="translate(270.40,52.0) scale(1.0596,1)" style="font-family:'Liberation Serif',serif;font-weight:normal;font-size:21px">Tetra-hybrid</text><text transform="translate(389.83,52.0) scale(1.0671,1)" style="font-family:'Liberation Serif',serif;font-weight:normal;font-size:21px">nanofluid</text><text transform="translate(152.20,77.3) scale(1.0178,1)" style="font-family:'Liberation Serif',serif;font-weight:bold;font-size:21px">Dash</text><text transform="translate(206.80,77.3) scale(0.9970,1)" style="font-family:'Liberation Serif',serif;font-weight:bold;font-size:21px">Dot</text><text transform="translate(245.55,77.3) scale(1.0544,1)" style="font-family:'Liberation Serif',serif;font-weight:bold;font-size:21px">Curves:</text><text transform="translate(325.40,77.3) scale(1.0698,1)" style="font-family:'Liberation Serif',serif;font-weight:normal;font-size:21px">Tri-hybrid</text><text transform="translate(423.45,77.3) scale(1.0532,1)" style="font-family:'Liberation Serif',serif;font-weight:normal;font-size:21px">nanofluid</text><text transform="translate(218.68,329.0) scale(1.0222,1)" style="font-family:'Liberation Serif',serif;font-weight:normal;font-size:22px">M</text><text transform="translate(243.70,329.0) scale(1.2000,1)" style="font-family:'Liberation Serif',serif;font-weight:normal;font-size:22px">=</text><text transform="translate(261.96,329.0) scale(1.0387,1)" style="font-family:'Liberation Serif',serif;font-weight:normal;font-size:22px">0.0,</text><text transform="translate(302.20,329.0) scale(1.0032,1)" style="font-family:'Liberation Serif',serif;font-weight:normal;font-size:22px">0.4,</text><text transform="translate(341.29,329.0) scale(1.0081,1)" style="font-family:'Liberation Serif',serif;font-weight:normal;font-size:22px">0.83</text><text transform="translate(96.10,540.2) scale(1.0000,1)" style="font-family:'Liberation Serif',serif;font-weight:normal;font-size:20px">0</text><text transform="translate(168.30,540.2) scale(0.8200,1)" style="font-family:'Liberation Serif',serif;font-weight:normal;font-size:20px">1</text><text transform="translate(240.55,540.2) scale(1.0000,1)" style="font-family:'Liberation Serif',serif;font-weight:normal;font-size:20px">2</text><text transform="translate(313.50,540.2) scale(1.0000,1)" style="font-family:'Liberation Serif',serif;font-weight:normal;font-size:20px">3</text><text transform="translate(385.45,540.2) scale(1.0000,1)" style="font-family:'Liberation Serif',serif;font-weight:normal;font-size:20px">4</text><text transform="translate(457.90,540.2) scale(1.0000,1)" style="font-family:'Liberation Serif',serif;font-weight:normal;font-size:20px">5</text><text transform="translate(530.10,540.2) scale(1.0000,1)" style="font-family:'Liberation Serif',serif;font-weight:normal;font-size:20px">6</text><text transform="translate(602.10,540.2) scale(1.0000,1)" style="font-family:'Liberation Serif',serif;font-weight:normal;font-size:20px">7</text><text transform="translate(674.35,540.2) scale(1.0000,1)" style="font-family:'Liberation Serif',serif;font-weight:normal;font-size:20px">8</text><text transform="translate(82.15,15.8) scale(0.8200,1)" style="font-family:'Liberation Serif',serif;font-weight:normal;font-size:20px">1</text><text transform="translate(66.90,115.9) scale(0.8000,1)" style="font-family:'Liberation Serif',serif;font-weight:normal;font-size:20px">0</text><text transform="translate(77.75,115.9) scale(1.0000,1)" style="font-family:'Liberation Serif',serif;font-weight:normal;font-size:20px">.</text><text transform="translate(81.50,115.9) scale(0.9500,1)" style="font-family:'Liberation Serif',serif;font-weight:normal;font-size:20px">8</text><text transform="translate(66.90,217.1) scale(0.8000,1)" style="font-family:'Liberation Serif',serif;font-weight:normal;font-size:20px">0</text><text transform="translate(77.75,217.1) scale(1.0000,1)" style="font-family:'Liberation Serif',serif;font-weight:normal;font-size:20px">.</text><text transform="translate(81.03,217.1) scale(0.9500,1)" style="font-family:'Liberation Serif',serif;font-weight:normal;font-size:20px">6</text><text transform="translate(66.90,318.2) scale(0.8000,1)" style="font-family:'Liberation Serif',serif;font-weight:normal;font-size:20px">0</text><text transform="translate(77.75,318.2) scale(1.0000,1)" style="font-family:'Liberation Serif',serif;font-weight:normal;font-size:20px">.</text><text transform="translate(82.05,318.2) scale(0.9500,1)" style="font-family:'Liberation Serif',serif;font-weight:normal;font-size:20px">4</text><text transform="translate(66.90,419.29999999999995) scale(0.8000,1)" style="font-family:'Liberation Serif',serif;font-weight:normal;font-size:20px">0</text><text transform="translate(77.75,419.29999999999995) scale(1.0000,1)" style="font-family:'Liberation Serif',serif;font-weight:normal;font-size:20px">.</text><text transform="translate(81.30,419.29999999999995) scale(0.9500,1)" style="font-family:'Liberation Serif',serif;font-weight:normal;font-size:20px">2</text><text transform="translate(81.55,520.3) scale(0.9000,1)" style="font-family:'Liberation Serif',serif;font-weight:normal;font-size:20px">0</text><text transform="translate(21.07,269.6) scale(0.7250,1)" style="font-family:'Liberation Serif',serif;font-weight:normal;font-size:28px" stroke="#222" stroke-width="0.7">(</text><text transform="translate(46.37,269.6) scale(0.8286,1)" style="font-family:'Liberation Serif',serif;font-weight:normal;font-size:28px" stroke="#222" stroke-width="0.7">)</text></g>
<line x1="141.9" y1="482" x2="250.6" y2="351.4" stroke="#111" stroke-width="1.4"/>
<polyline points="234.5,356.3 251.2,350.9 247,365.2" fill="none" stroke="#111" stroke-width="1.4" stroke-linejoin="miter"/>
<ellipse cx="10.25" cy="261.8" rx="6.95" ry="6.4" fill="none" stroke="#111" stroke-width="2.5"/>
<g stroke="#222" stroke-width="1.1"><line x1="7" y1="261.3" x2="13.8" y2="261.3"/><line x1="7.4" y1="259" x2="7.4" y2="263.6"/><line x1="13.4" y1="259" x2="13.4" y2="263.6"/></g>
<g transform="translate(30.4,257.3)" fill="none" stroke="#111" stroke-width="1.5"><path d="M0.2,2.9 Q0.9,0.7 2.4,0.7 Q3.3,0.8 3.3,2.2 L3.3,11.6"/><path d="M3.3,2.0 Q4.5,0.6 6.5,0.6 L9.6,0.6 L9.6,9"/><rect x="9.0" y="8.6" width="2.8" height="7.8" fill="#111" stroke="none"/></g>
<g transform="translate(384.8,556.0)" fill="none" stroke="#111" stroke-width="1.5"><path d="M0.2,2.9 Q0.9,0.7 2.4,0.7 Q3.3,0.8 3.3,2.2 L3.3,11.6"/><path d="M3.3,2.0 Q4.5,0.6 6.5,0.6 L9.6,0.6 L9.6,9"/><rect x="9.0" y="8.6" width="2.8" height="7.8" fill="#111" stroke="none"/></g>
</svg>
</body></html>
